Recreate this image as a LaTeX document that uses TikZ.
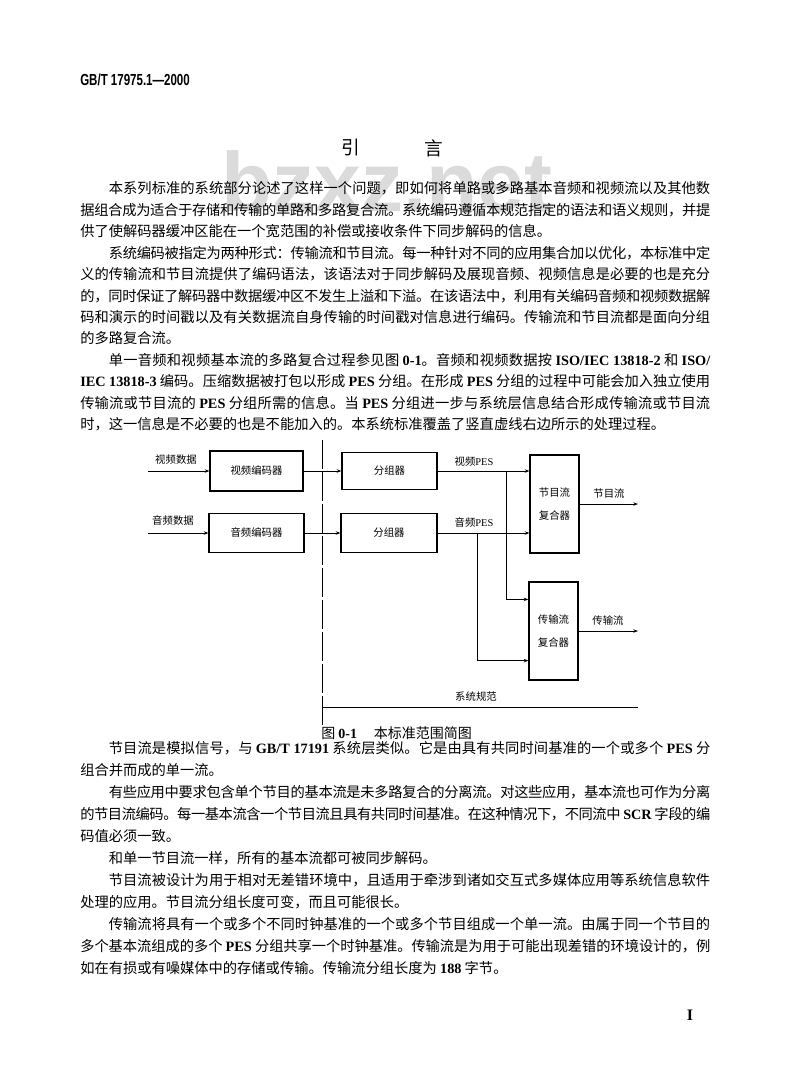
\documentclass[tikz,border=0pt]{standalone}
\usepackage{fontspec}
\setmainfont{Noto Sans CJK SC}
\newfontfamily\lbfont{Liberation Serif}
\newfontfamily\hdfont{Liberation Sans}
\usetikzlibrary{arrows.meta}
\XeTeXinterchartokenstate=1
\newXeTeXintercharclass\cjkcls
\makeatletter
\count@="3000
\loop\XeTeXcharclass\count@=\cjkcls\advance\count@\@ne\ifnum\count@<"A000 \repeat
\count@="FF00
\loop\XeTeXcharclass\count@=\cjkcls\advance\count@\@ne\ifnum\count@<"FFF0 \repeat
\makeatother
\XeTeXinterchartoks\cjkcls\cjkcls={\hskip0pt plus .2em minus .06em\relax}
\newcommand\lb[1]{{\lbfont\bfseries #1}}
\newcommand\bodyf{\fontsize{10.7pt}{12pt}\selectfont}
\newcommand\diaf{\fontsize{7.8pt}{9pt}\selectfont}
\newcommand\jline[3]{\node[anchor=base west,inner sep=0pt] (#1) at (80,#2) {\makebox[472.5pt][s]{#3}};}
\newcommand\lastl[3]{\node[anchor=base west,inner sep=0pt] (#1) at (80,#2) {#3};}
\begin{document}
\begin{tikzpicture}[x=0.75pt,y=-0.75pt,
  box/.style={draw,line width=0.9pt,inner sep=0pt,font=\diaf},
  conn/.style={line width=0.6pt,-{Stealth[length=3.5pt,width=2.6pt]}},
  plain/.style={line width=0.6pt},
  lab/.style={font=\diaf,inner sep=1pt}]
\useasboundingbox (0,0) rectangle (800,1091);
\fill[white] (0,0) rectangle (800,1091);
% watermark
\node[anchor=base west,inner sep=0pt,text=black!14,font=\hdfont\bfseries\fontsize{63pt}{63pt}\selectfont] (wm) at (221,212) {bzxz.net};
% header
\node[anchor=west,inner sep=0pt,font=\hdfont\bfseries\fontsize{12pt}{14pt}\selectfont] (hdr) at (80,80) {\scalebox{0.72}[1]{GB/T 17975.1—2000}};
% title
\node[font=\fontsize{14pt}{16pt}\selectfont] (ti1) at (351,148) {引};
\node[font=\fontsize{14pt}{16pt}\selectfont] (ti2) at (434,148) {言};
\begin{scope}[font=\bodyf]
\jline{t1}{194}{\hspace*{2em}本系列标准的系统部分论述了这样一个问题，即如何将单路或多路基本音频和视频流以及其他数}
\jline{t2}{215.4}{据组合成为适合于存储和传输的单路和多路复合流。系统编码遵循本规范指定的语法和语义规则，并提}
\lastl{t3}{236.8}{供了使解码器缓冲区能在一个宽范围的补偿或接收条件下同步解码的信息。}
\jline{t4}{258.2}{\hspace*{2em}系统编码被指定为两种形式：传输流和节目流。每一种针对不同的应用集合加以优化，本标准中定}
\jline{t5}{279.6}{义的传输流和节目流提供了编码语法，该语法对于同步解码及展现音频、视频信息是必要的也是充分}
\jline{t6}{301}{的，同时保证了解码器中数据缓冲区不发生上溢和下溢。在该语法中，利用有关编码音频和视频数据解}
\jline{t7}{322.4}{码和演示的时间戳以及有关数据流自身传输的时间戳对信息进行编码。传输流和节目流都是面向分组}
\lastl{t8}{343.8}{的多路复合流。}
\jline{t9}{365.2}{\hspace*{2em}单一音频和视频基本流的多路复合过程参见图 \lb{0-1}。音频和视频数据按 \lb{ISO/IEC 13818-2} 和 \lb{ISO/}}
\jline{t10}{386.6}{\lb{IEC 13818-3} 编码。压缩数据被打包以形成 \lb{PES} 分组。在形成 \lb{PES} 分组的过程中可能会加入独立使用}
\jline{t11}{408}{传输流或节目流的 \lb{PES} 分组所需的信息。当 \lb{PES} 分组进一步与系统层信息结合形成传输流或节目流}
\lastl{t12}{429.4}{时，这一信息是不必要的也是不能加入的。本系统标准覆盖了竖直虚线右边所示的处理过程。}
\jline{b1}{753}{\hspace*{2em}节目流是模拟信号，与 \lb{GB/T 17191} 系统层类似。它是由具有共同时间基准的一个或多个 \lb{PES} 分}
\lastl{b2}{775}{组合并而成的单一流。}
\jline{b3}{797}{\hspace*{2em}有些应用中要求包含单个节目的基本流是未多路复合的分离流。对这些应用，基本流也可作为分离}
\jline{b4}{819}{的节目流编码。每一基本流含一个节目流且具有共同时间基准。在这种情况下，不同流中 \lb{SCR} 字段的编}
\lastl{b5}{841}{码值必须一致。}
\lastl{b6}{863}{\hspace*{2em}和单一节目流一样，所有的基本流都可被同步解码。}
\jline{b7}{885}{\hspace*{2em}节目流被设计为用于相对无差错环境中，且适用于牵涉到诸如交互式多媒体应用等系统信息软件}
\lastl{b8}{907}{处理的应用。节目流分组长度可变，而且可能很长。}
\jline{b9}{929}{\hspace*{2em}传输流将具有一个或多个不同时钟基准的一个或多个节目组成一个单一流。由属于同一个节目的}
\jline{b10}{951}{多个基本流组成的多个 \lb{PES} 分组共享一个时钟基准。传输流是为用于可能出现差错的环境设计的，例}
\lastl{b11}{973}{如在有损或有噪媒体中的存储或传输。传输流分组长度为 \lb{188} 字节。}
\end{scope}
\node[font=\lbfont\bfseries\fontsize{12pt}{14pt}\selectfont] (pg) at (690,1015) {I};
% ---------- diagram ----------
\node[box,minimum width=69.75pt,minimum height=30pt] (venc) at (256.5,471) {视频编码器};
\node[box,minimum width=71.25pt,minimum height=29.25pt] (aenc) at (256.5,533) {音频编码器};
\node[box,minimum width=71.25pt,minimum height=27.75pt] (pk1) at (389.5,471) {分组器};
\node[box,minimum width=72pt,minimum height=29.25pt] (pk2) at (389,533) {分组器};
\node[box,minimum width=36.75pt,minimum height=73.5pt,align=center] (psm) at (554.5,504) {节目流\\[8pt]复合器};
\node[box,minimum width=36.75pt,minimum height=73.5pt,align=center] (tsm) at (553.5,631) {传输流\\[8pt]复合器};
\coordinate (vin) at (148,471);
\coordinate (ain) at (148,533);
\coordinate (vb) at (506,471);
\coordinate (ab) at (477,533);
\coordinate (pout) at (638,504);
\coordinate (tout) at (638,631);
\coordinate (dtop) at (322,440);
\coordinate (dbot) at (322,725);
\coordinate (sl) at (322,707);
\coordinate (sr) at (638,707);
\node[lab] (vdl) at (176,460) {视频数据};
\node[lab] (adl) at (173,521) {音频数据};
\node[lab] (vpl) at (474,462) {视频{\lbfont PES}};
\node[lab] (apl) at (474,523) {音频{\lbfont PES}};
\node[lab] (pol) at (609,494) {节目流};
\node[lab] (tol) at (608,621) {传输流};
\node[lab] (ssl) at (476,697) {系统规范};
\node[anchor=west,inner sep=0pt,font=\fontsize{10.5pt}{12pt}\selectfont] (cap) at (321,733) {图 \lb{0-1}\hspace{1.2em}本标准范围简图};
\draw[conn] (vin) -- (venc.west);
\draw[conn] (ain) -- (aenc.west);
\draw[conn] (venc.east) -- (pk1.west);
\draw[conn] (aenc.east) -- (pk2.west);
\draw[conn] (pk1.east) -- (pk1.east -| psm.west);
\draw[conn] (pk2.east) -- (pk2.east -| psm.west);
\draw[conn] (vb) |- ([yshift=-13.5pt]tsm.north west);
\draw[conn] (ab) |- ([yshift=15pt]tsm.south west);
\draw[conn] (psm.east) -- (pout);
\draw[conn] (tsm.east) -- (tout);
\draw[line width=0.6pt,dash pattern=on 22pt off 2pt] (dtop) -- (dbot);
\draw[plain] (sl) -- (sr);
\end{tikzpicture}
\end{document}
